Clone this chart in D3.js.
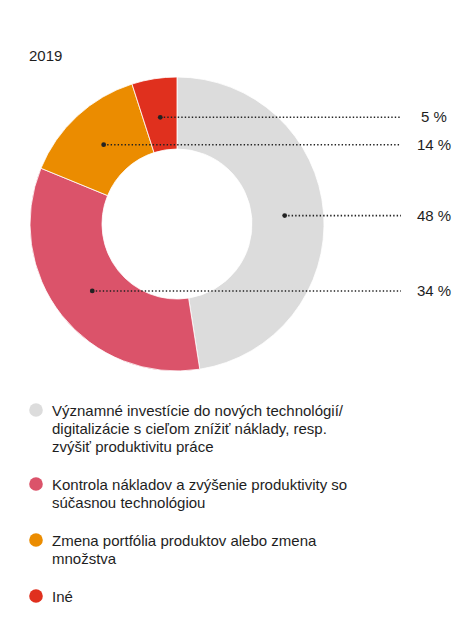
<!DOCTYPE html>
<html>
<head>
<meta charset="utf-8">
<script src="https://cdn.jsdelivr.net/npm/d3@7"></script>
<style>
  body { margin: 0; background: #fff; }
  text { font-family: "Liberation Sans", Arial, Helvetica, sans-serif; fill: #1e1e1e; }
</style>
</head>
<body>
<div id="donut"></div>
<script>
// data
var year = "2019";
var categories = [
    "Významné investície do nových technológií/\ndigitalizácie s cieľom znížiť náklady, resp.\nzvýšiť produktivitu práce",
    "Kontrola nákladov a zvýšenie produktivity so\nsúčasnou technológiou",
    "Zmena portfólia produktov alebo zmena\nmnožstva",
    "Iné"
];
var values = [48, 34, 14, 5];
var colors = ["#dcdcdc", "#db536a", "#eb8c00", "#e0301e"];

var width = 474, height = 635;
var cx = 177, cy = 224, outerR = 147, innerR = 75;
var lineEnd = 401, labelX = 434;

var svg = d3.select("#donut")
    .append("svg")
    .attr("width", width)
    .attr("height", height);

svg.append("text")
    .attr("x", 29)
    .attr("y", 61)
    .style("font-size", "15px")
    .text(year);

var pie = d3.pie().sort(null).value(function (d) { return d; });
var arcs = pie(values);

var arc = d3.arc().innerRadius(innerR).outerRadius(outerR);
var midArc = d3.arc().innerRadius(108).outerRadius(108);

var g = svg.append("g")
    .attr("transform", "translate(" + cx + "," + cy + ")");

g.selectAll(".slice")
    .data(arcs)
    .enter()
    .append("path")
    .attr("class", "slice")
    .attr("d", arc)
    .attr("fill", function (d, i) { return colors[i]; })
    .attr("stroke", "#fff")
    .attr("stroke-width", 0.8);

// callouts: dot at slice centre, dotted line out to the label
var callouts = g.selectAll(".callout")
    .data(arcs)
    .enter()
    .append("g")
    .attr("class", "callout");

callouts.append("line")
    .attr("x1", function (d) { return midArc.centroid(d)[0]; })
    .attr("y1", function (d) { return midArc.centroid(d)[1]; })
    .attr("x2", lineEnd - cx)
    .attr("y2", function (d) { return midArc.centroid(d)[1]; })
    .attr("stroke", "#222")
    .attr("stroke-width", 1.6)
    .attr("stroke-dasharray", "1.4,2.1");

callouts.append("circle")
    .attr("cx", function (d) { return midArc.centroid(d)[0]; })
    .attr("cy", function (d) { return midArc.centroid(d)[1]; })
    .attr("r", 2.4)
    .attr("fill", "#222");

callouts.append("text")
    .attr("x", labelX - cx)
    .attr("y", function (d) { return midArc.centroid(d)[1] + 5; })
    .attr("text-anchor", "middle")
    .style("font-size", "15px")
    .text(function (d) { return d.data + " %"; });

// legend
var lineH = 18, gap = 20, legY = 410;
var legend = svg.selectAll(".legend")
    .data(categories)
    .enter()
    .append("g")
    .attr("class", "legend")
    .attr("transform", function (d, i) {
        var y = legY;
        for (var k = 0; k < i; k++) y += categories[k].split("\n").length * lineH + gap;
        return "translate(36," + y + ")";
    });

legend.append("circle")
    .attr("r", 6.8)
    .attr("fill", function (d, i) { return colors[i]; });

legend.append("text")
    .attr("x", 16)
    .attr("y", 5.5)
    .style("font-size", "15px")
    .selectAll("tspan")
    .data(function (d) { return d.split("\n"); })
    .enter()
    .append("tspan")
    .attr("x", 16)
    .attr("dy", function (d, i) { return i ? lineH : 0; })
    .text(function (d) { return d; });
</script>
</body>
</html>
